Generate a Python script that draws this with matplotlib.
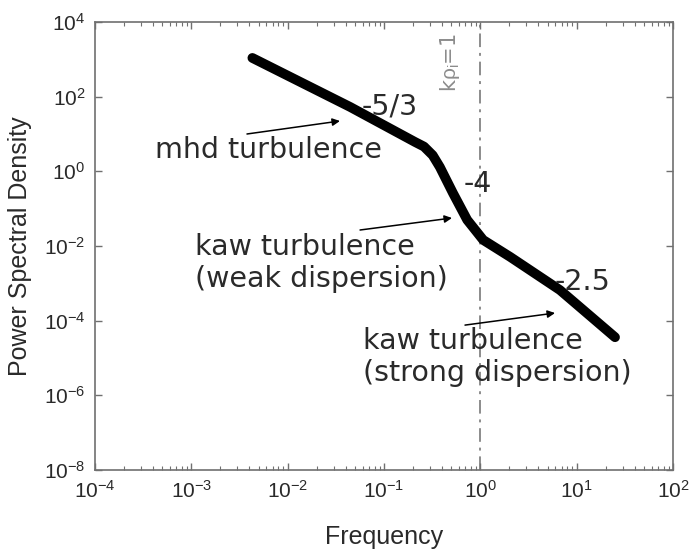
import matplotlib
matplotlib.use("Agg")
import matplotlib.pyplot as plt
from matplotlib.ticker import LogLocator, NullLocator

# Spectrum (frequency, power)
freq = [0.0043, 0.0445, 0.21, 0.26, 0.32, 0.38, 0.52, 0.73, 1.07, 2.04, 6.7, 25.0]
psd = [1090.0, 53.0, 6.1, 4.6, 2.7, 1.3, 0.26, 0.050, 0.0145, 0.0051, 6.6e-4, 3.6e-5]

x_ticks = [1e-4, 1e-3, 1e-2, 1e-1, 1e0, 1e1, 1e2]
y_ticks = [1e-8, 1e-6, 1e-4, 1e-2, 1e0, 1e2, 1e4]
k_rho = 1.0

# slope labels: (text, x, y)
slope_labels = [("-5/3", 0.115, 56.0), ("-4", 0.946, 0.457), ("-2.5", 11.6, 1.08e-3)]

# regime labels: (text, text anchor, arrow tail, arrow head)
regime_labels = [
    ("mhd turbulence", (4.2e-4, 3.7), (3.78e-3, 10.0), (0.0349, 22.3)),
    ("kaw turbulence\n(weak dispersion)", (1.09e-3, 3.5e-3), (0.0564, 0.0268), (0.508, 0.0562)),
    ("kaw turbulence\n(strong dispersion)", (0.0605, 1.06e-5), (0.693, 7.6e-5), (5.96, 1.6e-4)),
]

plt.rcParams["mathtext.fontset"] = "custom"
plt.rcParams["mathtext.rm"] = "Liberation Sans"
plt.rcParams["mathtext.it"] = "Liberation Sans:italic"
plt.rcParams["mathtext.default"] = "rm"

fig = plt.figure(figsize=(6.9, 5.5), dpi=100)
ax = fig.add_axes([0.1377, 0.1455, 0.8377, 0.8145])

ax.set_xscale("log")
ax.set_yscale("log")
ax.set_xlim(1e-4, 1e2)
ax.set_ylim(1e-8, 1e4)

axis_grey = "#707070"
text_dark = "#2a2a2a"
line_grey = "#8c8c8c"

ax.axvline(k_rho, color=line_grey, lw=1.4, ls=(0, (7, 3, 1.5, 3)), zorder=1)
ax.text(0.484, 5.0e3, r"k$\rho_i$=1", rotation=90, ha="center", va="top",
        color=line_grey, fontsize=15, family="DejaVu Sans")

ax.plot(freq, psd, color="black", lw=7.0, solid_capstyle="round",
        solid_joinstyle="round", zorder=3)

for txt, x, y in slope_labels:
    ax.text(x, y, txt, fontsize=20.5, family="DejaVu Sans", color=text_dark,
            ha="center", va="center", zorder=4)

for txt, pos, tail, head in regime_labels:
    ax.text(pos[0], pos[1], txt, fontsize=20.5, family="DejaVu Sans",
            color=text_dark, ha="left", va="center", linespacing=1.15, zorder=4)
    ax.annotate("", xy=head, xytext=tail,
                arrowprops=dict(arrowstyle="-|>", color="black", lw=1.1,
                                mutation_scale=11, shrinkA=0, shrinkB=0),
                zorder=5)

ax.set_xticks(x_ticks)
ax.set_yticks(y_ticks)
ax.xaxis.set_minor_locator(LogLocator(base=10, subs=range(2, 10), numticks=20))
ax.yaxis.set_minor_locator(NullLocator())
ax.tick_params(which="both", direction="in", top=True, right=True,
               color=axis_grey, labelcolor=text_dark)
ax.tick_params(which="major", length=5, width=1, labelsize=15, pad=7)
ax.tick_params(which="minor", length=3, width=0.8)
for lab in ax.get_xticklabels() + ax.get_yticklabels():
    lab.set_family("Liberation Sans")

for sp in ax.spines.values():
    sp.set_color(axis_grey)
    sp.set_linewidth(1.2)

ax.set_xlabel("Frequency", fontsize=18, family="Liberation Sans",
              color=text_dark, labelpad=17)
ax.set_ylabel("Power Spectral Density", fontsize=18, family="Liberation Sans",
              color=text_dark, labelpad=8)

fig.savefig("out.png", dpi=100)
